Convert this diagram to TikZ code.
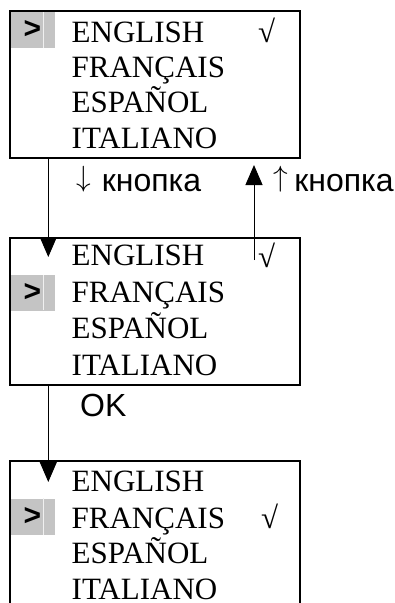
\documentclass[tikz,border=0pt]{standalone}
\usepackage{fontspec}
\setmainfont{Liberation Serif}
\setsansfont{Liberation Sans}
\usetikzlibrary{arrows.meta}
\definecolor{curgray}{HTML}{C4C4C4}
\newcommand{\myarrow}[1]{\raisebox{4.7pt}{\resizebox*{!}{26pt}{$#1$}}}
\begin{document}
\begin{tikzpicture}[x=1pt,y=-1pt,
  screen/.style={draw,line width=2pt,minimum width=290pt,minimum height=147pt,inner sep=0pt},
  item/.style={anchor=base west,inner sep=0pt,font=\fontsize{31}{31}\selectfont},
  tick/.style={anchor=base west,inner sep=0pt,font=\fontsize{31}{31}\selectfont},
  cursorbox/.style={fill=curgray,draw=none,minimum width=45pt,minimum height=36pt,inner sep=0pt,
    font=\sffamily\bfseries\fontsize{30}{30}\selectfont},
  lbl/.style={anchor=base west,inner sep=0pt,font=\sffamily\fontsize{32}{32}\selectfont},
  conn/.style={line width=1pt,-{Triangle[width=17pt,length=20pt]}}
]
\clip (0,0) rectangle (394,603);
\fill[white] (0,0) rectangle (394,603);

% screen 1
\node[cursorbox] (c1) at (32.5,30) {\raisebox{1pt}{>}};
\draw[white!88!gray,line width=0.8pt] (43,12) -- (43,48);
\node[screen] (b1) at (155,84.5) {};
\node[item] (e1) at (71.5,42) {ENGLISH};
\node[item] (f1) at (71.5,77) {FRANÇAIS};
\node[item] (s1) at (71.5,112) {ESPAÑOL};
\node[item] (i1) at (71.5,148) {ITALIANO};
\node[tick] (t1) at (258,42) {√};

% screen 2
\node[cursorbox] (c2) at (32.5,292.5) {\raisebox{1pt}{>}};
\draw[white!88!gray,line width=0.8pt] (43,275) -- (43,310);
\node[screen] (b2) at (155,311.5) {};
\node[item] (e2) at (71.5,265.5) {ENGLISH};
\node[item] (f2) at (71.5,302) {FRANÇAIS};
\node[item] (s2) at (71.5,338) {ESPAÑOL};
\node[item] (i2) at (71.5,375) {ITALIANO};
\node[tick] (t2) at (258,267) {√};

% screen 3
\node[cursorbox] (c3) at (32.5,516.5) {\raisebox{1pt}{>}};
\draw[white!88!gray,line width=0.8pt] (43,498) -- (43,535);
\node[screen] (b3) at (155,534.5) {};
\node[item] (e3) at (71.5,491) {ENGLISH};
\node[item] (f3) at (71.5,528) {FRANÇAIS};
\node[item] (s3) at (71.5,563) {ESPAÑOL};
\node[item] (i3) at (71.5,599) {ITALIANO};
\node[tick] (t3) at (261,528) {√};

% labels
\node[lbl] (l1) at (76.5,191) {\myarrow{\downarrow}\hspace{10.5pt}кнопка};
\node[lbl] (l2) at (273.5,191) {\myarrow{\uparrow}\hspace{6pt}кнопка};
\node[lbl] (l3) at (80,416) {OK};

% connectors
\coordinate (tip1) at (48.3,257);
\coordinate (tail2) at (254,260);
\coordinate (tip2) at (254,165);
\coordinate (tip3) at (48.3,482);
\draw[conn] (b1.south west -| tip1) -- (tip1);
\draw[conn] (tail2) -- (tip2);
\draw[conn] (b2.south west -| tip3) -- (tip3);
\end{tikzpicture}
\end{document}
